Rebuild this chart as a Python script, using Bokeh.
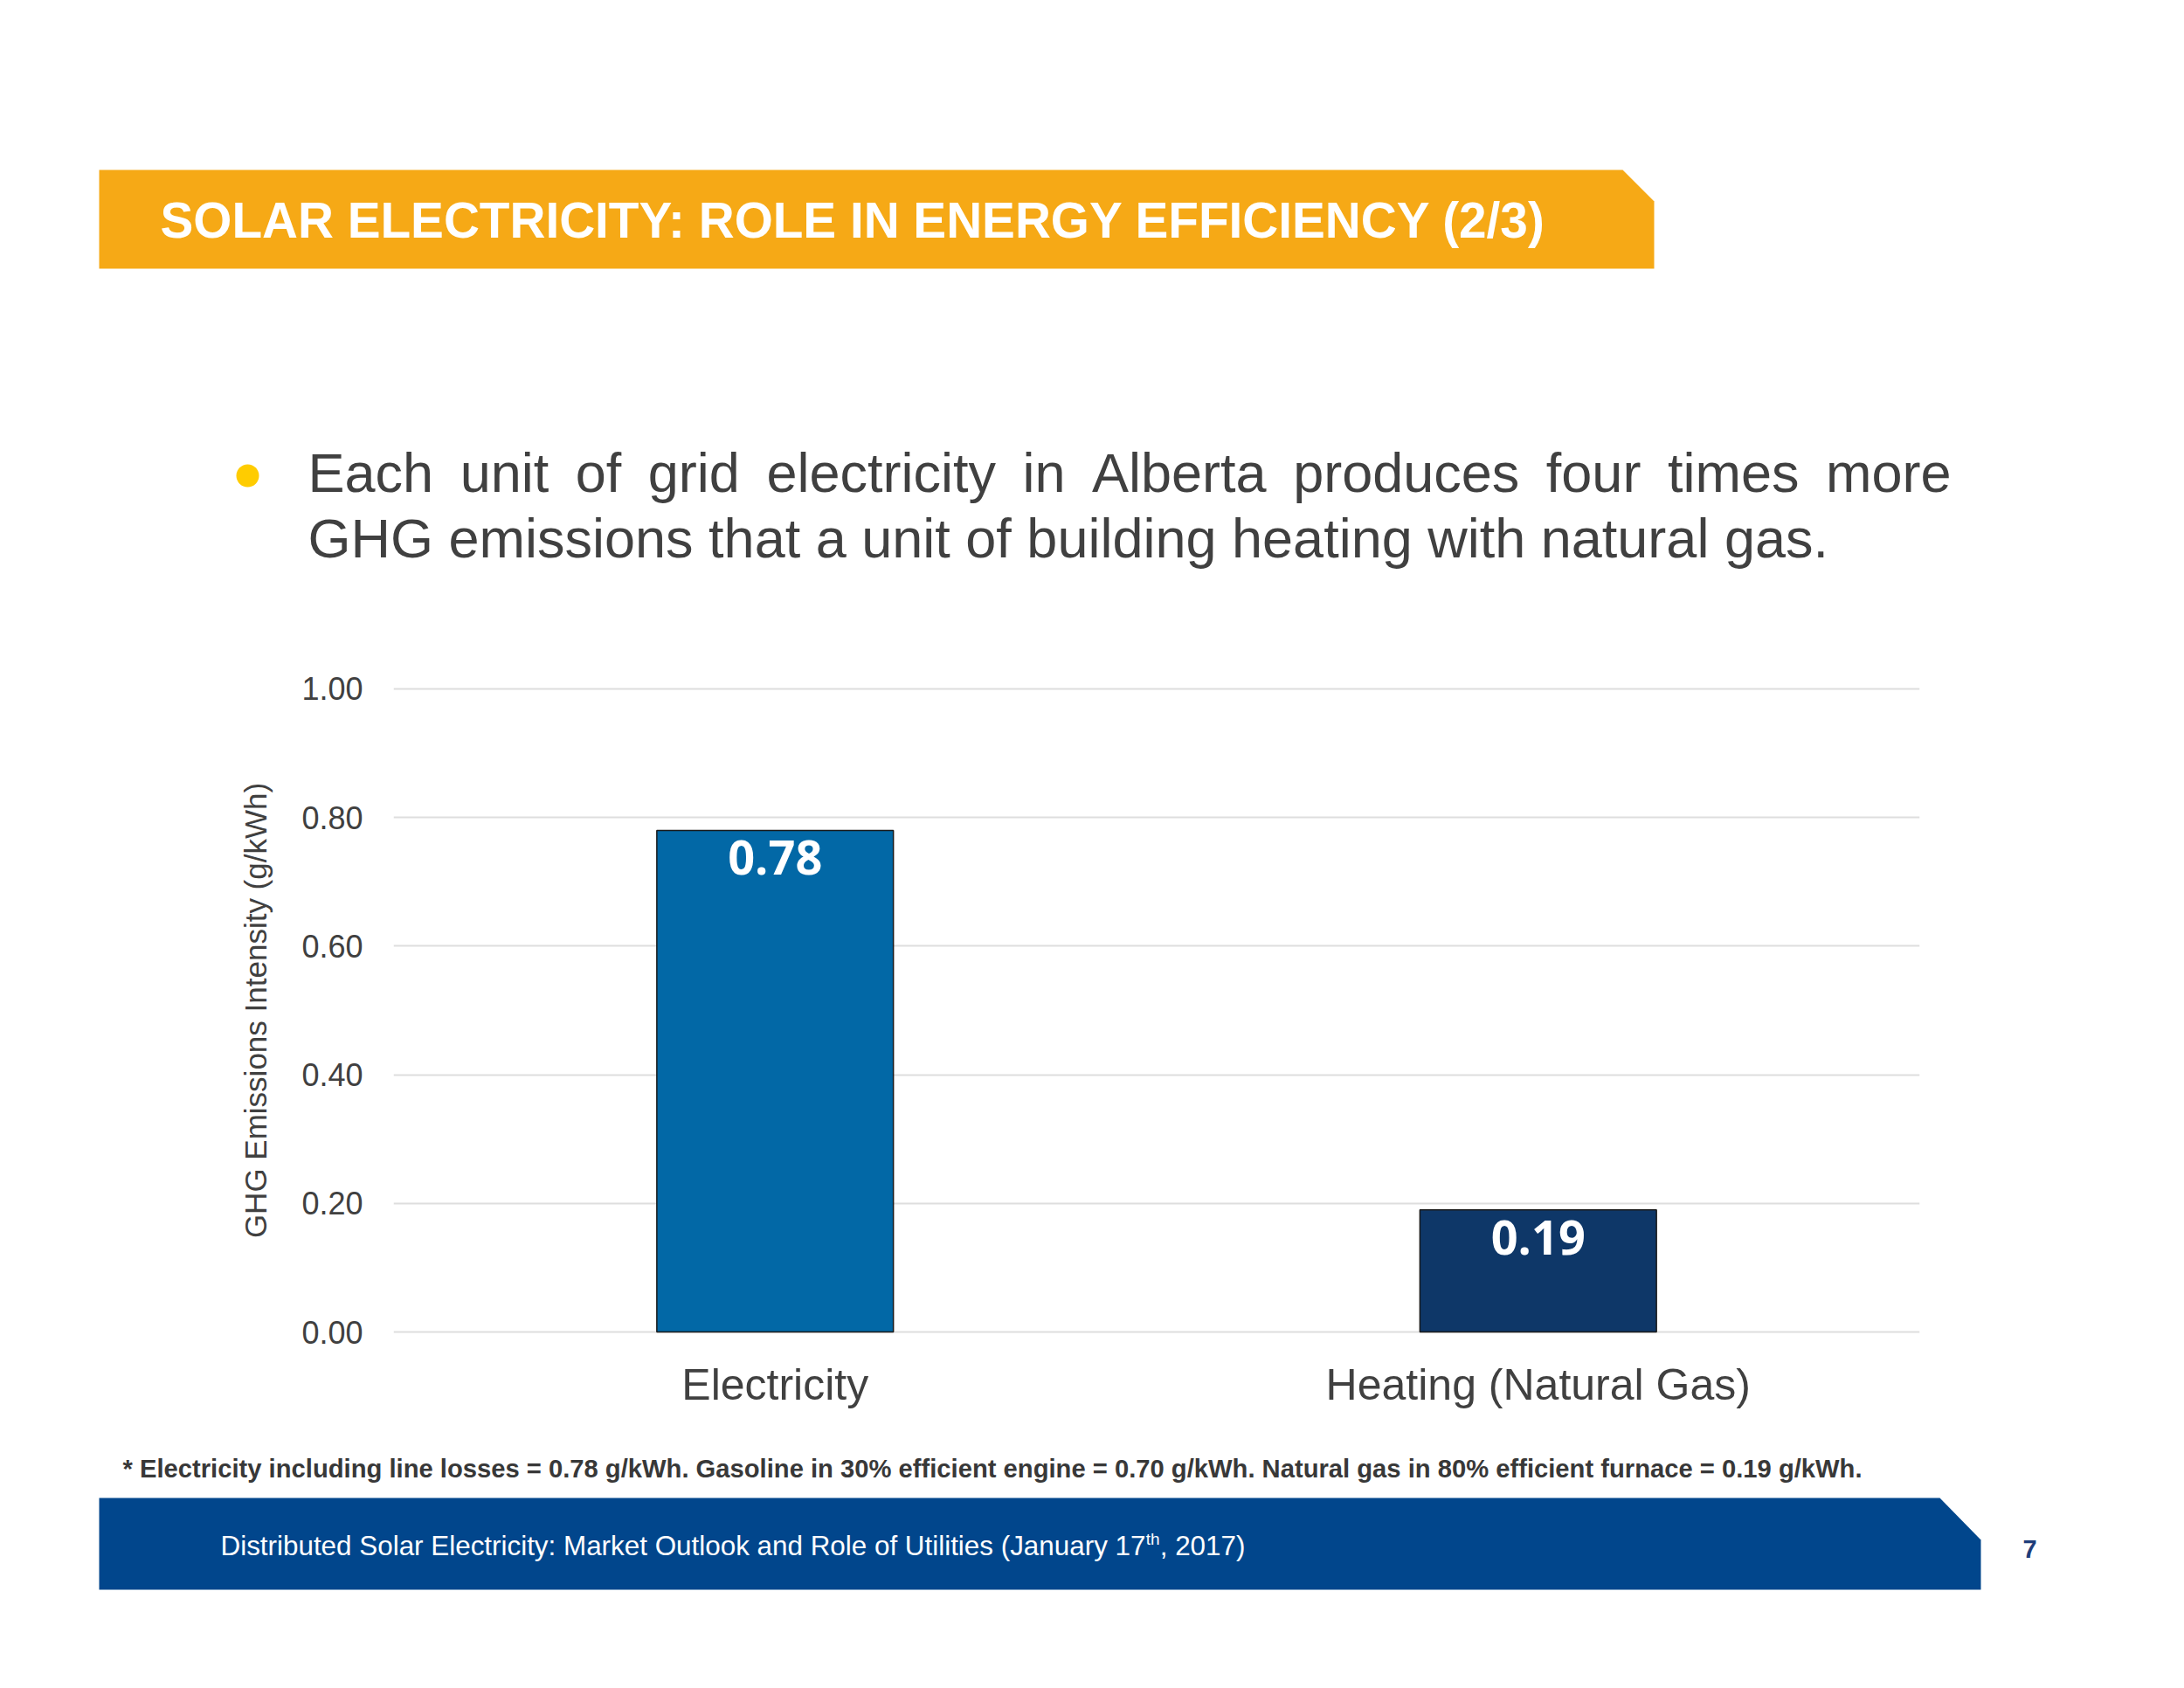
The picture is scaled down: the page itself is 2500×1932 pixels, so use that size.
from bokeh.plotting import figure
from bokeh.models import Range1d, FactorRange, FixedTicker, NumeralTickFormatter
from bokeh.layouts import column
from bokeh.embed import file_html
from bokeh.resources import INLINE
from bokeh.core.properties import value

# ---------------- data ----------------
categories = ["Electricity", "Heating (Natural Gas)"]
intensity = [0.78, 0.19]
value_labels = ["0.78", "0.19"]
bar_colors = ["#0268A6", "#0E3768"]
y_ticks = [0.0, 0.2, 0.4, 0.6, 0.8, 1.0]

title_text = "SOLAR ELECTRICITY: ROLE IN ENERGY EFFICIENCY (2/3)"
line1_words = ["Each", "unit", "of", "grid", "electricity", "in", "Alberta",
               "produces", "four", "times", "more"]
line2_text = "GHG emissions that a unit of building heating with natural gas."
footnote_text = ("* Electricity including line losses = 0.78 g/kWh. Gasoline in 30% efficient "
                 "engine = 0.70 g/kWh. Natural gas in 80% efficient furnace = 0.19 g/kWh.")
footer_main = "Distributed Solar Electricity: Market Outlook and Role of Utilities (January 17"
footer_sup = "th"
footer_end = ", 2017)"
page_number = "7"

# ---------------- styles ----------------
W = 2480
PAD = 0.004
PX_PER_UNIT = 736
ORANGE = "#F6A916"
NAVY = "#01468C"
TEXT_GREY = "#404040"
FONT = "Liberation Sans"
MID = 0.35   # distance (in em) from alphabetic baseline up to text middle

ADV = {'E': 667, 'a': 556, 'c': 500, 'h': 556, 'u': 556, 'n': 556, 'i': 222, 't': 278,
       'o': 556, 'f': 278, 'g': 556, 'r': 333, 'd': 556, 'e': 556, 'l': 222, 'y': 500,
       'A': 667, 'b': 556, 'p': 556, 's': 500, 'm': 833}


def deco_fig(y0, y1):
    p = figure(width=W, height=y1 - y0, x_range=Range1d(0, W), y_range=Range1d(y1, y0),
               output_backend="svg", toolbar_location=None, min_border=0,
               x_axis_location=None, y_axis_location=None, align="start")
    p.grid.grid_line_color = None
    p.outline_line_color = None
    p.background_fill_color = "white"
    p.border_fill_color = "white"
    return p


def put_text(p, x, baseline_y, texts, size, color, style="normal", align="left"):
    n = len(texts)
    xs = x if isinstance(x, list) else [x] * n
    p.text(x=xs, y=[baseline_y - MID * size] * n, text=texts, text_font=value(FONT),
           text_font_style=style, text_font_size=f"{size}px", text_color=color,
           text_align=align, text_baseline="middle")


# ---------------- top: banner + bullet ----------------
CH_T = 700
top = deco_fig(0, CH_T)
top.patch([113, 1857, 1893, 1893, 113], [194, 194, 230, 307, 307],
          fill_color=ORANGE, line_color=None)
put_text(top, 183, 272, [title_text], 56.7, "white", style="bold")

top.scatter(x=[283], y=[544], size=26, marker="circle", fill_color="#FFCC00", line_color=None)

fs = 63
line_left, line_right = 352, 2233
widths = [sum(ADV[c] for c in w) / 1000 * fs for w in line1_words]
gap = (line_right - line_left - sum(widths)) / (len(line1_words) - 1)
xs = []
cur = line_left
for w in widths:
    xs.append(cur)
    cur += w + gap
put_text(top, xs, 563, line1_words, fs, TEXT_GREY)
put_text(top, line_left, 638, [line2_text], fs, TEXT_GREY)

# ---------------- chart ----------------
CH_B = 1650
FR_T = 788 - PAD * PX_PER_UNIT
FR_B = 1524 + PAD * PX_PER_UNIT
chart = figure(width=W, height=CH_B - CH_T, x_range=FactorRange(*categories),
               y_range=Range1d(-PAD, 1 + PAD),
               output_backend="svg", toolbar_location=None, align="start",
               min_border_left=450, min_border_right=W - 2197,
               min_border_top=int(round(FR_T - CH_T)), min_border_bottom=int(round(CH_B - FR_B)))
chart.outline_line_color = None
chart.vbar(x=categories, top=intensity, width=0.31, fill_color=bar_colors,
           line_color="#1A1A1A", line_width=1.5)
chart.text(x=categories, y=intensity, text=value_labels, text_font=value("Open Sans"),
           text_font_style="bold", text_font_size="54px", text_color="white",
           text_align="center", text_baseline="top", y_offset=12)

chart.xgrid.grid_line_color = None
chart.ygrid.grid_line_color = "#DEDEDE"
chart.ygrid.grid_line_width = 2
chart.ygrid.ticker = FixedTicker(ticks=y_ticks)

yax = chart.yaxis[0]
yax.ticker = FixedTicker(ticks=y_ticks)
yax.formatter = NumeralTickFormatter(format="0.00")
yax.axis_line_color = None
yax.major_tick_line_color = None
yax.minor_tick_line_color = None
yax.major_tick_out = 0
yax.major_label_standoff = 35
yax.major_label_text_font = FONT
yax.major_label_text_font_size = "36px"
yax.major_label_text_color = TEXT_GREY
yax.axis_label = "GHG Emissions Intensity (g/kWh)"
yax.axis_label_text_font = FONT
yax.axis_label_text_font_size = "35px"
yax.axis_label_text_font_style = "normal"
yax.axis_label_text_color = TEXT_GREY
yax.axis_label_standoff = 30

xax = chart.xaxis[0]
xax.axis_line_color = None
xax.major_tick_line_color = None
xax.minor_tick_line_color = None
xax.major_tick_out = 0
xax.major_label_standoff = 29
xax.major_label_text_font = FONT
xax.major_label_text_font_size = "50px"
xax.major_label_text_color = TEXT_GREY

# ---------------- bottom: footnote + footer ----------------
bot = deco_fig(CH_B, 1914)
put_text(bot, 140, 1691, [footnote_text], 29.2, "#383838", style="bold")
bot.patch([113, 2220, 2267, 2267, 113], [1714, 1714, 1762, 1819, 1819],
          fill_color=NAVY, line_color=None)
ffs = 31.4
main_w = 33.733 * ffs
put_text(bot, 252, 1780, [footer_main], ffs, "white")
put_text(bot, 252 + main_w, 1768, [footer_sup], 19, "white")
put_text(bot, 252 + main_w + 16, 1780, [footer_end], ffs, "white")
bot.text(x=[2323], y=[1772], text=[page_number], text_font=value(FONT),
         text_font_style="bold", text_font_size="29px", text_color="#1F3D7A",
         text_align="center", text_baseline="middle")

# nest the decoration panels so that their frames are not aligned with the chart frame
layout = column(column(top, spacing=0), chart, column(bot, spacing=0), spacing=0)
open("out.html", "w").write(file_html(layout, INLINE))
